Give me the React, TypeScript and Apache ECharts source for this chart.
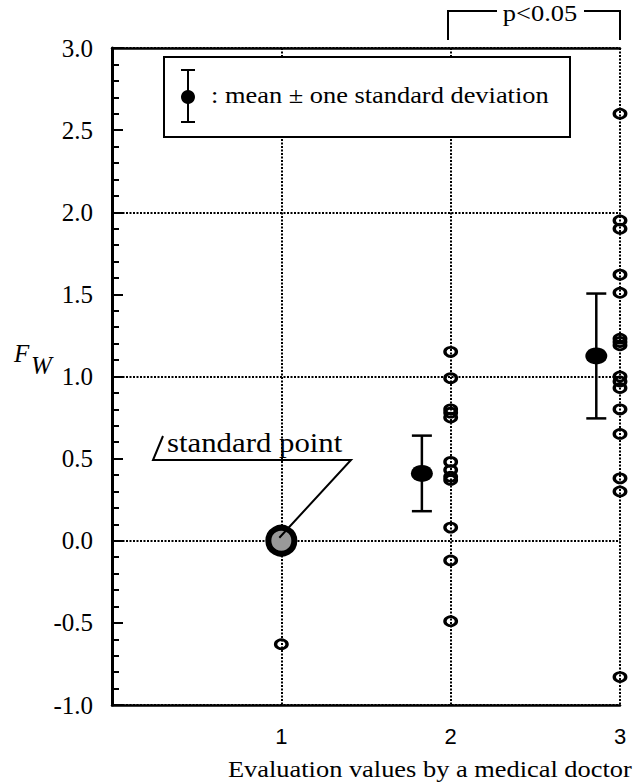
import React, { useEffect, useRef } from "react";
import * as echarts from "echarts";

// x positions of evaluation categories
const xTickValues = [1, 2, 3];
// Fw values for each evaluation value (open circles)
const group1Values = [-0.63];
const group2Values = [1.15, 0.99, 0.8, 0.78, 0.75, 0.48, 0.43, 0.39, 0.37, 0.08, -0.12, -0.49];
const group3Values = [2.6, 1.95, 1.9, 1.62, 1.51, 1.23, 1.21, 1.19, 1.0, 0.97, 0.93, 0.8, 0.65, 0.38, 0.3, -0.83];
// standard point
const standardPoint = [1, 0];
// mean ± SD markers (drawn slightly left of the column)
const meanX = [1.83, 2.86];
const meanValues = [0.41, 1.125];
const sdValues = [0.23, 0.38];

const SERIF = "Liberation Serif";
const SANS = "Liberation Sans";

export default function App() {
  const ref = useRef<HTMLDivElement>(null);
  useEffect(() => {
    const chart = echarts.init(ref.current!, null, { renderer: "svg" });
    const dotted = { type: [2, 1.5], color: "#000", width: 2 };
    const openCircle = {
      type: "scatter",
      symbol: "circle",
      symbolSize: [11.5, 9],
      itemStyle: { color: "rgba(0,0,0,0)", borderColor: "#000", borderWidth: 3, opacity: 1 },
      z: 3,
    };
    const option: any = {
      animation: false,
      backgroundColor: "#fff",
      textStyle: { fontFamily: SERIF },
      grid: { left: 112, right: 17, top: 48, bottom: 77, containLabel: false },
      xAxis: [
        {
          type: "value",
          min: 0,
          max: 3,
          interval: 1,
          axisLine: { show: true, onZero: false, lineStyle: { color: "#000", width: 2.5 } },
          axisTick: { show: false },
          axisLabel: {
            show: true,
            margin: 20,
            color: "#000",
            fontFamily: SANS,
            fontSize: 22,
            formatter: (v: number) => (xTickValues.includes(v) ? String(v) : ""),
          },
          splitLine: { show: true, lineStyle: dotted },
        },
        {
          type: "value",
          position: "top",
          min: 0,
          max: 3,
          interval: 1,
          axisLine: { show: true, onZero: false, lineStyle: { color: "#000", width: 2.5 } },
          axisTick: { show: false },
          axisLabel: { show: false },
          splitLine: { show: false },
        },
      ],
      yAxis: [
        {
          type: "value",
          min: -1,
          max: 3,
          interval: 0.5,
          axisLine: { show: true, onZero: false, lineStyle: { color: "#000", width: 3 } },
          axisTick: { show: true, inside: true, length: 11, lineStyle: { color: "#000", width: 2 } },
          minorTick: { show: true, splitNumber: 5, length: 7, lineStyle: { color: "#000", width: 2 } },
          axisLabel: {
            show: true,
            margin: 19,
            color: "#000",
            fontFamily: SERIF,
            fontSize: 25,
            showMinLabel: true,
            showMaxLabel: true,
            formatter: (v: number) => v.toFixed(1),
          },
          splitLine: { show: false },
        },
        {
          type: "value",
          min: -1,
          max: 3,
          interval: 1,
          axisLine: { show: false },
          axisTick: { show: false },
          axisLabel: { show: false },
          splitLine: { show: true, lineStyle: dotted },
        },
      ],
      series: [
        { ...openCircle, data: group1Values.map((v) => [1, v]) },
        { ...openCircle, data: group2Values.map((v) => [2, v]) },
        { ...openCircle, data: group3Values.map((v) => [3, v]) },
        {
          type: "custom",
          z: 4,
          data: meanX.map((x, i) => [x, meanValues[i] - sdValues[i], meanValues[i] + sdValues[i]]),
          encode: { x: 0, y: [1, 2] },
          renderItem: (_p: any, api: any) => {
            const x = api.value(0);
            const lo = api.coord([x, api.value(1)]);
            const hi = api.coord([x, api.value(2)]);
            const hw = 10;
            const st = { stroke: "#000", lineWidth: 2.5 };
            return {
              type: "group",
              children: [
                { type: "line", shape: { x1: lo[0], y1: lo[1], x2: hi[0], y2: hi[1] }, style: st },
                { type: "line", shape: { x1: lo[0] - hw, y1: lo[1], x2: lo[0] + hw, y2: lo[1] }, style: st },
                { type: "line", shape: { x1: hi[0] - hw, y1: hi[1], x2: hi[0] + hw, y2: hi[1] }, style: st },
              ],
            };
          },
        },
        {
          type: "scatter",
          z: 5,
          symbol: "circle",
          symbolSize: [22, 17],
          itemStyle: { color: "#000", opacity: 1 },
          data: meanX.map((x, i) => [x, meanValues[i]]),
        },
        {
          type: "scatter",
          z: 6,
          symbol: "circle",
          symbolSize: 26,
          itemStyle: { color: "#999", borderColor: "#000", borderWidth: 6, opacity: 1 },
          data: [standardPoint],
        },
      ],
    };
    chart.setOption(option);

    const sp = chart.convertToPixel({ seriesIndex: 5 }, standardPoint) as number[];
    const lineSt = { stroke: "#000", lineWidth: 2, fill: "none" };
    chart.setOption({
      graphic: [
        // legend box
        { type: "rect", z: 100, shape: { x: 164, y: 57, width: 406, height: 80 }, style: { fill: "#fff", stroke: "#000", lineWidth: 2 } },
        { type: "line", z: 101, shape: { x1: 188, y1: 70, x2: 188, y2: 122 }, style: { stroke: "#000", lineWidth: 2 } },
        { type: "line", z: 101, shape: { x1: 181, y1: 70, x2: 195, y2: 70 }, style: { stroke: "#000", lineWidth: 2 } },
        { type: "line", z: 101, shape: { x1: 181, y1: 122, x2: 195, y2: 122 }, style: { stroke: "#000", lineWidth: 2 } },
        { type: "circle", z: 101, shape: { cx: 188, cy: 97, r: 7 }, style: { fill: "#000" } },
        {
          type: "text", z: 101, x: 211, y: 95, scaleX: 1.1,
          style: { x: 0, y: 0, text: ": mean \u00b1 one standard deviation", fill: "#000", fontFamily: SERIF, fontSize: 24, textAlign: "left", textVerticalAlign: "middle" },
        },
        // significance bracket
        { type: "polyline", z: 100, shape: { points: [[448, 40], [448, 11], [497, 11]] }, style: lineSt },
        { type: "polyline", z: 100, shape: { points: [[584, 11], [620, 11], [620, 40]] }, style: lineSt },
        {
          type: "text", z: 100, x: 540, y: 13, scaleX: 1.15,
          style: { x: 0, y: 0, text: "p<0.05", fill: "#000", fontFamily: SERIF, fontSize: 23, textAlign: "center", textVerticalAlign: "middle" },
        },
        // standard point annotation
        { type: "polyline", z: 100, shape: { points: [[163, 436], [153, 460], [351, 460], [sp[0] - 2, sp[1] - 3]] }, style: lineSt },
        {
          type: "text", z: 100, x: 167, y: 442, scaleX: 1.1,
          style: { x: 0, y: 0, text: "standard point", fill: "#000", fontFamily: SERIF, fontSize: 28, textAlign: "left", textVerticalAlign: "middle" },
        },
        // y axis name F_W
        {
          type: "text", z: 100, x: 14, y: 353,
          style: { x: 0, y: 0, text: "F", fill: "#000", fontFamily: SERIF, fontStyle: "italic", fontSize: 25, textAlign: "left", textVerticalAlign: "middle" },
        },
        {
          type: "text", z: 100, x: 31, y: 365,
          style: { x: 0, y: 0, text: "W", fill: "#000", fontFamily: SERIF, fontStyle: "italic", fontSize: 25, textAlign: "left", textVerticalAlign: "middle" },
        },
        // x axis name
        {
          type: "text", z: 100, x: 228, y: 769, scaleX: 1.1,
          style: { x: 0, y: 0, text: "Evaluation values by a medical doctor", fill: "#000", fontFamily: SERIF, fontSize: 24, textAlign: "left", textVerticalAlign: "middle" },
        },
      ],
    });
    return () => chart.dispose();
  }, []);
  return (
    <div
      ref={ref}
      style={{ position: "fixed", left: 0, top: 0, width: 637, height: 782, background: "#fff" }}
    />
  );
}
